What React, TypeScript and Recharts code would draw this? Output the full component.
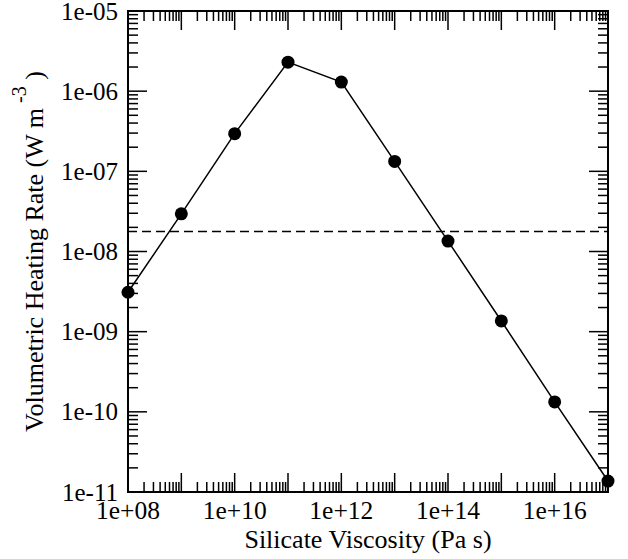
import React from 'react';
import { LineChart, Line, XAxis, YAxis, ReferenceLine, ReferenceArea } from 'recharts';

// Data
const viscosity = [1e8, 1e9, 1e10, 1e11, 1e12, 1e13, 1e14, 1e15, 1e16, 1e17];
const heatingRate = [3.1e-9, 2.95e-8, 2.95e-7, 2.3e-6, 1.3e-6, 1.33e-7, 1.35e-8, 1.36e-9, 1.33e-10, 1.37e-11];
const thresholdRate = 1.77e-8;

// Axis decades and labels
const xDecades = [8, 9, 10, 11, 12, 13, 14, 15, 16, 17];
const yDecades = [-11, -10, -9, -8, -7, -6, -5];
const xLabelValues = [1e8, 1e10, 1e12, 1e14, 1e16];
const xLabelTexts = ['1e+08', '1e+10', '1e+12', '1e+14', '1e+16'];
const yLabelValues = [1e-11, 1e-10, 1e-9, 1e-8, 1e-7, 1e-6, 1e-5];
const yLabelTexts = ['1e-11', '1e-10', '1e-09', '1e-08', '1e-07', '1e-06', '1e-05'];
const minorMultipliers = [2, 3, 4, 5, 6, 7, 8, 9];

const data = viscosity.map((v, i) => ({ x: v, y: heatingRate[i] }));

const buildTicks = (decades: number[]) => {
  const out: number[] = [];
  decades.forEach((d, i) => {
    out.push(Number(`1e${d}`));
    if (i < decades.length - 1) {
      minorMultipliers.forEach((m) => out.push(Number(`${m}e${d}`)));
    }
  });
  return out;
};

const xTicks = buildTicks(xDecades);
const yTicks = buildTicks(yDecades);
const xMajor = new Set(xDecades.map((d) => Number(`1e${d}`)));
const yMajor = new Set(yDecades.map((d) => Number(`1e${d}`)));
const xLabels = new Map(xLabelValues.map((v, i) => [v, xLabelTexts[i]] as [number, string]));
const yLabels = new Map(yLabelValues.map((v, i) => [v, yLabelTexts[i]] as [number, string]));

const FONT = 'Liberation Serif';
const MAJOR_LEN = 19;
const MINOR_LEN = 10;
const TICK_W = 1.5;

// chart layout
const W = 628;
const H = 559;
const M_TOP = 11;
const M_RIGHT = 20;
const Y_AXIS_W = 128;
const X_AXIS_H = 67;
const PLOT_TOP = M_TOP;
const PLOT_RIGHT = W - M_RIGHT;

const BottomTick = (props: any) => {
  const { x, y, payload } = props;
  const v = payload.value as number;
  const len = xMajor.has(v) ? MAJOR_LEN : MINOR_LEN;
  return (
    <g>
      <line x1={x} y1={y} x2={x} y2={y - len} stroke="#000" strokeWidth={TICK_W} />
      <line x1={x} y1={PLOT_TOP} x2={x} y2={PLOT_TOP + len} stroke="#000" strokeWidth={TICK_W} />
      {xLabels.has(v) && (
        <text x={x} y={y + 27} textAnchor="middle" fontFamily={FONT} fontSize={25.5} fill="#000">
          {xLabels.get(v)}
        </text>
      )}
    </g>
  );
};

const LeftTick = (props: any) => {
  const { x, y, payload } = props;
  const v = payload.value as number;
  const len = yMajor.has(v) ? MAJOR_LEN : MINOR_LEN;
  return (
    <g>
      <line x1={x} y1={y} x2={x + len} y2={y} stroke="#000" strokeWidth={TICK_W} />
      <line x1={PLOT_RIGHT} y1={y} x2={PLOT_RIGHT - len} y2={y} stroke="#000" strokeWidth={TICK_W} />
      {yLabels.has(v) && (
        <text x={x - 10} y={y + 8.5} textAnchor="end" fontFamily={FONT} fontSize={25} fill="#000">
          {yLabels.get(v)}
        </text>
      )}
    </g>
  );
};

const XTitle = (props: any) => {
  const vb = props.viewBox || { x: 128, y: 492, width: 480, height: 67 };
  return (
    <text x={vb.x + vb.width / 2} y={vb.y + 56} textAnchor="middle" fontFamily={FONT} fontSize={26} fill="#000">
      Silicate Viscosity (Pa s)
    </text>
  );
};

const YTitle = (props: any) => {
  const vb = props.viewBox || { x: 0, y: 11, width: 128, height: 481 };
  const cy = vb.y + vb.height / 2;
  return (
    <text
      transform={`translate(43, ${cy}) rotate(-90)`}
      x={0}
      y={0}
      textAnchor="middle"
      fontFamily={FONT}
      fontSize={26}
      fill="#000"
    >
      Volumetric Heating Rate (W m
      <tspan dy={-17} fontSize={20}> -3</tspan>
      <tspan dy={17}> )</tspan>
    </text>
  );
};

export default function App() {
  return (
    <div style={{ position: 'absolute', left: 0, top: 0, width: W, height: H, background: '#fff' }}>
      <LineChart
        width={W}
        height={H}
        data={data}
        margin={{ top: M_TOP, right: M_RIGHT, bottom: 0, left: 0 }}
      >
        <XAxis
          xAxisId="b"
          dataKey="x"
          type="number"
          scale="log"
          domain={[1e8, 1e17]}
          ticks={xTicks}
          interval={0}
          tickSize={0}
          tickMargin={0}
          tick={<BottomTick />}
          axisLine={false}
          tickLine={false}
          height={X_AXIS_H}
          orientation="bottom"
          label={<XTitle />}
        />
        <YAxis
          yAxisId="l"
          type="number"
          scale="log"
          domain={[1e-11, 1e-5]}
          ticks={yTicks}
          interval={0}
          tickSize={0}
          tickMargin={0}
          tick={<LeftTick />}
          axisLine={false}
          tickLine={false}
          width={Y_AXIS_W}
          orientation="left"
          label={<YTitle />}
        />
        <ReferenceArea
          xAxisId="b"
          yAxisId="l"
          x1={1e8}
          x2={1e17}
          y1={1e-11}
          y2={1e-5}
          fill="none"
          fillOpacity={0}
          stroke="#000"
          strokeWidth={2}
          ifOverflow="visible"
        />
        <ReferenceLine
          xAxisId="b"
          yAxisId="l"
          y={thresholdRate}
          stroke="#000"
          strokeWidth={1.5}
          strokeDasharray="9 5"
        />
        <Line
          xAxisId="b"
          yAxisId="l"
          dataKey="y"
          stroke="#000"
          strokeWidth={1.5}
          dot={{ r: 6.5, fill: '#000', stroke: '#000', strokeWidth: 0 }}
          isAnimationActive={false}
        />
      </LineChart>
    </div>
  );
}
